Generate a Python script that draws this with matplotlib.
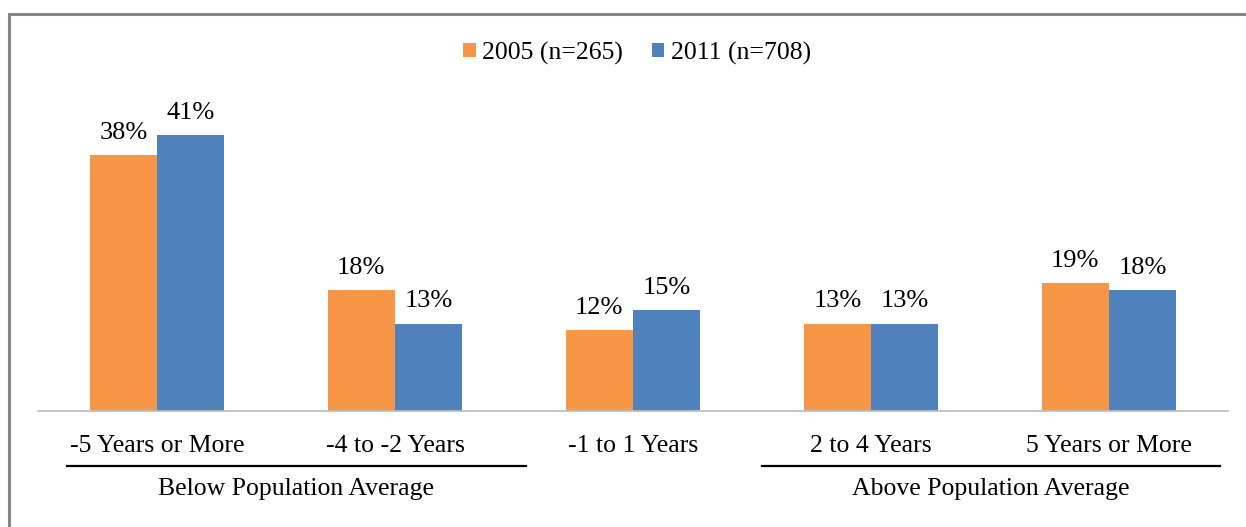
import matplotlib
matplotlib.use("Agg")
import matplotlib.pyplot as plt
import numpy as np
from matplotlib.patches import Rectangle
from matplotlib.lines import Line2D

# data
categories = ["-5 Years or More", "-4 to -2 Years", "-1 to 1 Years",
              "2 to 4 Years", "5 Years or More"]
series_names = ["2005 (n=265)", "2011 (n=708)"]
values_2005 = [38, 18, 12, 13, 19]
values_2011 = [41, 13, 15, 13, 18]
group_names = ["Below Population Average", "Above Population Average"]

orange = "#F79646"
blue = "#4F81BD"
fs = 18.5

plt.rcParams['font.family'] = ['Liberation Serif', 'DejaVu Serif']

W, H = 1246, 527
fig = plt.figure(figsize=(W / 100, H / 100), dpi=100)

# figure frame (only top and left edges visible, rest is cropped)
fig.add_artist(Rectangle((9 / W, -0.1), 1.2, 1 - 14 / H + 0.1,
                         transform=fig.transFigure, fill=False,
                         edgecolor="#858585", linewidth=2.2))

# plot area
left, right = 38 / W, 1228 / W
bottom = 1 - 411 / H
top = 1 - 60 / H
ax = fig.add_axes([left, bottom, right - left, top - bottom])

x = np.arange(len(categories))
bw = 0.283
b1 = ax.bar(x - bw / 2, values_2005, bw, color=orange, label=series_names[0])
b2 = ax.bar(x + bw / 2, values_2011, bw, color=blue, label=series_names[1])

for bars in (b1, b2):
    for rect in bars:
        h = rect.get_height()
        ax.annotate(f"{h:.0f}%", (rect.get_x() + rect.get_width() / 2, h),
                    xytext=(0, 8), textcoords="offset points",
                    ha="center", va="bottom", fontsize=fs + 0.5)

ax.set_xlim(-0.5, len(categories) - 0.5)
ax.set_ylim(0, 351 / 6.73)
for s in ["top", "right", "left"]:
    ax.spines[s].set_visible(False)
ax.spines["bottom"].set_color("#BFBFBF")
ax.spines["bottom"].set_linewidth(1.3)
ax.set_yticks([])
ax.set_xticks(x)
ax.set_xticklabels(categories, fontsize=fs)
ax.tick_params(axis="x", length=0, pad=17)

# legend
fig.legend(handles=[b1, b2], labels=series_names, loc="center",
           bbox_to_anchor=(637 / W, 1 - 53 / H), ncol=2, frameon=False,
           fontsize=fs, handlelength=0.5, handleheight=0.5,
           handletextpad=0.25, columnspacing=1.1)

# group brackets below the category labels
group_spans = [(67, 526), (762, 1220)]
for name, (x0, x1) in zip(group_names, group_spans):
    fig.add_artist(Line2D([x0 / W, x1 / W], [1 - 466 / H, 1 - 466 / H],
                          transform=fig.transFigure, color="black",
                          linewidth=1.6))
    fig.text((x0 + x1) / 2 / W, 1 - 489 / H, name, ha="center",
             va="center", fontsize=fs)

fig.savefig("out.png", dpi=100)
